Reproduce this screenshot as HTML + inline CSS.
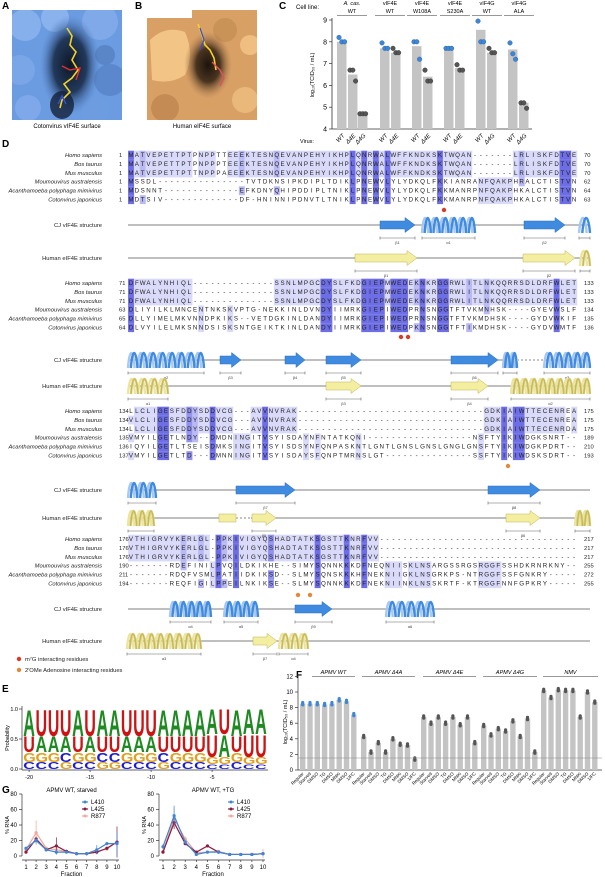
<!DOCTYPE html>
<html><head><meta charset="utf-8"><style>
html,body{margin:0;padding:0;background:#fff;}
svg{display:block;font-family:"Liberation Sans",sans-serif;}
</style></head><body>
<svg id="s" width="605" height="877" viewBox="0 0 605 877" xmlns="http://www.w3.org/2000/svg">
<defs>
<radialGradient id="gA" cx="0.5" cy="0.5" r="0.5"><stop offset="0" stop-color="#0e1828"/><stop offset="0.55" stop-color="#22385a"/><stop offset="1" stop-color="#4f7fc4" stop-opacity="0"/></radialGradient>
<radialGradient id="gB" cx="0.5" cy="0.5" r="0.5"><stop offset="0" stop-color="#1c140c"/><stop offset="0.5" stop-color="#4a3420"/><stop offset="1" stop-color="#b08050" stop-opacity="0"/></radialGradient>
<clipPath id="cA"><rect x="12" y="10" width="110" height="110"/></clipPath>
<clipPath id="cB"><rect x="147" y="10" width="110" height="110"/></clipPath>
</defs>
<g font-weight="bold" font-size="10">
<text x="2" y="9">A</text><text x="135" y="9">B</text><text x="279" y="9">C</text>
<text x="2" y="147">D</text><text x="2" y="692">E</text><text x="296" y="678">F</text><text x="2" y="793">G</text>
</g>
<!-- A -->
<g clip-path="url(#cA)">
<rect x="12" y="10" width="110" height="110" fill="#6b9be0"/>
<circle cx="25" cy="25" r="16" fill="#86b0ec"/><circle cx="55" cy="18" r="14" fill="#8ab3ee"/>
<circle cx="100" cy="22" r="18" fill="#7fa9e9"/><circle cx="20" cy="70" r="15" fill="#7aa5e6"/>
<circle cx="110" cy="80" r="16" fill="#5b88cc"/><circle cx="95" cy="110" r="14" fill="#6e9ce0"/>
<circle cx="28" cy="108" r="13" fill="#7ea8ea"/><circle cx="105" cy="55" r="10" fill="#5a86c8"/>
<ellipse cx="70" cy="65" rx="30" ry="50" fill="url(#gA)"/>
<ellipse cx="62" cy="105" rx="12" ry="14" fill="#14203a" opacity="0.8"/>
<polyline points="67,28 72,36 70,45 76,52 72,60 78,70 72,78 64,84 70,92 62,100 60,108" fill="none" stroke="#f3d22a" stroke-width="1.6"/>
<polyline points="62,66 70,70 80,68 76,80" fill="none" stroke="#e03030" stroke-width="1.4"/>
<polyline points="58,104 62,96 66,104" fill="none" stroke="#3050d0" stroke-width="1.4"/>
</g>
<text x="67" y="128" font-size="6" text-anchor="middle">Cotonvirus vIF4E surface</text>
<!-- B -->
<g clip-path="url(#cB)">
<rect x="147" y="10" width="110" height="110" fill="#d9a066"/>
<rect x="147" y="10" width="45" height="8" fill="#fff"/>
<path d="M150,40 Q165,25 185,32 Q195,55 185,75 Q170,85 152,80 Z" fill="#f2c486"/>
<circle cx="250" cy="45" r="10" fill="#efbe80"/><circle cx="245" cy="100" r="13" fill="#eab87a"/>
<circle cx="165" cy="108" r="14" fill="#c48c54"/><circle cx="225" cy="30" r="12" fill="#c99257"/>
<ellipse cx="208" cy="65" rx="24" ry="34" fill="url(#gB)"/>
<polyline points="198,24 202,35 205,45 210,50 214,58 216,70" fill="none" stroke="#f3d22a" stroke-width="1.6"/>
<polyline points="212,62 220,70 224,78 220,86" fill="none" stroke="#e05060" stroke-width="1.4"/>
<polyline points="200,28 204,40 200,50" fill="none" stroke="#3050d0" stroke-width="1.2"/>
</g>
<text x="202" y="128" font-size="6" text-anchor="middle">Human eIF4E surface</text>
<g id="dyn"></g>
</svg>
<script>
(function(){
var NS="http://www.w3.org/2000/svg",g=document.getElementById("dyn");
function el(t,a,txt){var e=document.createElementNS(NS,t);for(var k in a)e.setAttribute(k,a[k]);if(txt!=null)e.textContent=txt;g.appendChild(e);return e;}
function T(x,y,s,fs,o){o=o||{};var a={x:x,y:y,"font-size":fs};for(var k in o)a[k]=o[k];return el("text",a,s);}
function L(x1,y1,x2,y2,c,w,o){o=o||{};var a={x1:x1,y1:y1,x2:x2,y2:y2,stroke:c,"stroke-width":w||1};for(var k in o)a[k]=o[k];return el("line",a);}

/* ---------- C chart ---------- */
var cy=function(v){return 129-(v-4)*21.8;};
L(332,18,332,129,"#333",0.8);L(332,129,532,129,"#333",0.8);
for(var v=4;v<=9;v++){L(329,cy(v),332,cy(v),"#333",0.7);T(327,cy(v)+2.5,""+v,7,{"text-anchor":"end"});}
T(314,75,"log\u2081\u2080(TCID\u2085\u2080 / mL)",5.5,{"text-anchor":"middle",transform:"rotate(-90 314 75)"});
T(296,9,"Cell line:",6);
var grp=[["A. cas.","WT",352,1],["vIF4E","WT",390,0],["vIF4E","W108A",422,0],["vIF4E","S230A",455,0],["vIF4G","WT",487,0],["vIF4G","ALA",519,0]];
grp.forEach(function(q){T(q[2],5,q[0],5.5,{"text-anchor":"middle","font-style":q[3]?"italic":"normal"});T(q[2],13,q[1],5.5,{"text-anchor":"middle"});L(q[2]-15,15.5,q[2]+15,15.5,"#333",0.6);});
var cb=[[337,8.0,[8.2,8.0,8.0],1],[348,6.5,[6.7,6.7,6.2],0],[358,4.7,[4.7,4.7,4.7],0],[380,7.7,[7.95,7.7,7.7],1],[391,7.5,[7.7,7.5,7.5],0],[412,7.8,[8.0,8.0,7.2],1],[423,6.4,[6.7,6.2,6.2],0],[444,7.7,[7.7,7.7,7.7],1],[455,6.8,[6.95,6.7,6.7],0],[476,8.55,[8.95,8.0,8.0],1],[487,7.5,[7.7,7.5,7.5],0],[508,7.65,[7.95,7.45,7.2],1],[519,5.2,[5.2,5.2,4.95],0]];
cb.forEach(function(b){el("rect",{x:b[0],y:cy(b[1]),width:9.5,height:129-cy(b[1]),fill:"#c4c4c4"});
 b[2].forEach(function(d,i){el("circle",{cx:b[0]+2+i*2.8,cy:cy(d),r:2.3,fill:b[3]?"#3f86d6":"#555",stroke:b[3]?"#1e5aa0":"#333","stroke-width":0.4});});});
T(300,143,"Virus:",5.5);
var vl=[[342,"WT"],[353,"\u03944E"],[363,"\u03944G"],[385,"WT"],[396,"\u03944E"],[417,"WT"],[428,"\u03944E"],[449,"WT"],[460,"\u03944E"],[481,"WT"],[492,"\u03944G"],[513,"WT"],[524,"\u03944G"]];
vl.forEach(function(q){T(q[0]+3,136,q[1],6,{"text-anchor":"end",transform:"rotate(-45 "+(q[0]+3)+" 136)","font-style":"italic"});});

/* ---------- D alignment ---------- */
var names=["Homo sapiens","Bos taurus","Mus musculus","Moumouvirus australensis","Acanthamoeba polyphaga mimivirus","Cotonvirus japonicus"];
var blocks=[
{y:157,s:[1,1,1,1,1,1],e:[70,70,70,62,64,63],q:[
"MATVEPETTPTPNPPTTEEEKTESNQEVANPEHYIKHPLQNRWALWFFKNDKSKTWQAN-------LRLISKFDTVE",
"MATVEPETTPTPNPPPTEEEKTESNQEVANPEHYIKHPLQNRWALWFFKNDKSKTWQAN-------LRLISKFDTVE",
"MATVEPETTPTTNPPPAEEEKTESNQEVANPEHYIKHPLQNRWALWFFKNDKSKTWQAN-------LRLISKFDTVE",
"MSSDL---------------TVTDKNSIPKDIPLTDIKLPNEWVLYLYDKQLFKKIANRANFQAKPHRALCTISTVN",
"MDSNNT-------------EFKDNYQHIPDDIPLTNIKLPNEWVLYLYDKQLFKKMANRPNFQAKPHKALCTISTVN",
"MDTSIV-------------DF-HNINNIPDNVTLTNIKLPNEWVLYLYDKQLFKKMANRPNFQAKPHKALCTISTVN"]},
{y:285,s:[71,71,71,63,65,64],e:[133,133,133,134,135,136],q:[
"DFWALYNHIQL--------------SSNLMPGCDYSLFKDGIEPMWEDEKNKRGGRWLITLNKQQRRSDLDRFWLET",
"DFWALYNHIQL--------------SSNLMPGCDYSLFKDGIEPMWEDEKNKRGGRWLITLNKQQRRSDLDRFWLET",
"DFWALYNHIQL--------------SSNLMPGCDYSLFKDGIEPMWEDEKNKRGGRWLITLNKQQRRSDLDRFWLET",
"DLIYILKLMNCENTNKSKVPTG-NEKKINLDVNDYIIMRKGIEPIWEDPRNSNGGTFTVKMNHSK----GYEVWSLF",
"DLLYIMELMKVNNDPKIKS--VETDGKINLDANDYIIMRKGIEPIWEDPRNSNGGTFTVKMDHSK----GYDVWKIF",
"DLVYILELMKSNNDSISKSNTGEIKTKINLDANDYIIMRKGIEPIWEDPKNSNGGTFTIKMDHSK----GYDVWMTF"]},
{y:413,s:[134,134,134,135,136,137],e:[175,175,175,189,210,193],q:[
"LLCLIGESFDDYSDDVCG---AVVNVRAK--------------------------------GDKIAIWTTECENREA",
"VLCLIGESFDDYSDDVCG---AVVNVRAK--------------------------------GDKIAIWTTECENREA",
"LLCLIGESFDDYSDDVCG---AVVNVRAK--------------------------------GDKIAIWTTECENRDA",
"VMYILGETLNDY--DMDNINGITVSYISDAYNFNTATKQNI------------------NSFTYIKIWDGKSNRT--",
"IQYILGETLTSEISDMKSINGITVSYISDSYNFQNPASKNTLGNTLGNSLGNSLGNGLGNSFTYIKIWDGKPDRT--",
"VMYILGETLTD---DMNNINGITVSYISDAYSFQNPTMRNSLGT---------------SSFTYIKIWDSKSDRT--"]},
{y:541,s:[176,176,176,190,211,194],e:[217,217,217,255,272,255],q:[
"VTHIGRVYKERLGL-PPKIVIGYQSHADTATKSGSTTKNRFVV----------------------------------",
"VTHIGRVYKERLGL-PPKIVIGYQSHADTATKSGSTTKNRFVV----------------------------------",
"VTHIGRVYKERLGL-PPKIVIGYQSHADTATKSGSTTKNRFVV----------------------------------",
"-------RDEFINILPVQILDKIKHE--SIMYSQNNKKKDFNEQNIISKLNSARGSSRGSRGGFSSHDKRNRKNY--",
"-------RDQFVSMLPATIIDKIKSD--SLMYSQNSKKKHFNEKNIIGKLNSGRKPS-NTRGGFSSFGNKRY-----",
"-------REQFIGILPPEILNKIKSE--SLMYSQNNKKKDFNEKNIINKLNSSKRTF-KTRGGFNNFGPKRY-----"]}];
var X0=131,CW=5.83,RH=8.9;
var shade={6:"#6d6de6",5:"#9191ee",4:"#b9b9f4",3:"#d9d9f9"};
blocks.forEach(function(b){
 var n=b.q[0].length;
 for(var c=0;c<n;c++){var cnt={};b.q.forEach(function(s){var ch=s[c];if(ch&&ch!="-")cnt[ch]=(cnt[ch]||0)+1;});
  var best=null,bc=0;for(var k in cnt)if(cnt[k]>bc){bc=cnt[k];best=k;}
  b.q.forEach(function(s,r){var ch=s[c]||"-";var x=X0+c*CW,y=b.y+r*RH;
   if(ch==best&&bc>=3)el("rect",{x:x-CW/2,y:y-6.3,width:CW+0.2,height:RH,fill:shade[bc]});
   T(x,y,ch,6.2,{"text-anchor":"middle",fill:"#222"});});}
 b.q.forEach(function(s,r){var y=b.y+r*RH;
  T(102,y,names[r],5.8,{"text-anchor":"end","font-style":"italic",fill:"#222"});
  T(119,y,""+b.s[r],5.8,{fill:"#222"});T(584,y,""+b.e[r],5.8,{fill:"#222"});});
});
var BLUE="#3f8be0",BLUE2="#a8c8f0",YEL="#f4eea0",YELS="#bdb35a";
function backbone(y){L(128,y,590,y,"#999",1.3);}
function arrow(x1,x2,y,h){var f=h?YEL:BLUE,s=h?YELS:"#2a6cc0";var hl=Math.min(10,(x2-x1)*0.45);
 el("polygon",{points:[x1,y-4,x2-hl,y-4,x2-hl,y-7.5,x2,y,x2-hl,y+7.5,x2-hl,y+4,x1,y+4].join(" "),fill:f,stroke:s,"stroke-width":0.5});}
function helix(x1,x2,y,h){var w=9,n=Math.max(1,Math.round((x2-x1)/w));w=(x2-x1)/n;
 var d1="",d2="";for(var i=0;i<n;i++){var a=x1+i*w;
  d2+="M"+a+","+(y+8)+" C"+(a+w*0.15)+","+(y-12)+" "+(a+w*0.55)+","+(y-12)+" "+(a+w*0.7)+","+(y+8)+" ";
  d1+="M"+(a+w*0.3)+","+(y+8)+" C"+(a+w*0.45)+","+(y-12)+" "+(a+w*0.85)+","+(y-12)+" "+(a+w)+","+(y+8)+" ";}
 el("path",{d:d2,fill:"none",stroke:h?"#ece4a0":BLUE2,"stroke-width":2.4});
 el("path",{d:d1,fill:"none",stroke:h?"#d8cc70":BLUE,"stroke-width":2.4});
 if(h)el("path",{d:d1,fill:"none",stroke:"#a69a40","stroke-width":0.4});}
function rng(x1,x2,y,l){L(x1,y+13,x2,y+13,"#666",0.6);L(x1,y+11.5,x1,y+14.5,"#666",0.6);L(x2,y+11.5,x2,y+14.5,"#666",0.6);T((x1+x2)/2,y+19,l,4,{"text-anchor":"middle",fill:"#444"});}
var struct=[
 [225,0,[["a",380,415,"\u03b21"],["h",422,475,"\u03b11"],["a",524,565,"\u03b22"],["h",579,590,""]]],
 [258,1,[["a",355,417,"\u03b21"],["a",523,575,"\u03b22"],["h",580,590,""]]],
 [360,0,[["h",128,204,"\u03b12"],["a",220,241,"\u03b23"],["a",285,305,"\u03b24"],["a",326,361,"\u03b25"],["a",451,498,"\u03b26"],["h",503,517,""],["d",517,544],["h",544,590,"\u03b13"]]],
 [386,1,[["h",128,168,"\u03b11"],["a",326,361,"\u03b23"],["a",451,488,"\u03b24"],["h",511,590,"\u03b12"]]],
 [490,0,[["h",128,156,""],["a",236,295,"\u03b27"],["a",488,540,"\u03b28"]]],
 [518,1,[["h",128,154,""],["b",219,236],["d",236,251],["a",252,276,"\u03b25"],["a",506,540,"\u03b26"],["h",575,590,""]]],
 [609,0,[["h",170,211,"\u03b14"],["h",224,258,"\u03b15"],["a",295,332,"\u03b29"],["h",386,434,"\u03b16"]]],
 [641,1,[["h",127,201,"\u03b13"],["a",253,277,"\u03b27"],["h",279,308,"\u03b14"]]]];
var lab=["CJ vIF4E structure","Human eIF4E structure"];
struct.forEach(function(s){var y=s[0],h=s[1];T(102,y+2,lab[h],5.8,{"text-anchor":"end",fill:"#222"});backbone(y);
 s[2].forEach(function(e){
  if(e[0]=="d"){L(e[1],y,e[2],y,"#fff",2);L(e[1],y,e[2],y,"#888",1,{"stroke-dasharray":"2,2"});return;}
  if(e[0]=="b"){el("rect",{x:e[1],y:y-4,width:e[2]-e[1],height:8,fill:YEL,stroke:YELS,"stroke-width":0.5});return;}
  if(e[0]=="a")arrow(e[1],e[2],y,h);else helix(e[1],e[2],y,h);
  if(e[3]!=null)rng(e[1],e[2],y,e[3]);});});
[[444,210,"#d93a2a"],[401,337,"#d93a2a"],[408,337,"#d93a2a"],[508,466,"#e08a3a"],[298,595,"#e08a3a"],[310,595,"#e08a3a"]].forEach(function(d){el("circle",{cx:d[0],cy:d[1],r:2.2,fill:d[2]});});
el("circle",{cx:19,cy:659,r:2.2,fill:"#d93a2a"});T(25,661,"m\u2077G interacting residues",5.8,{fill:"#222"});
el("circle",{cx:19,cy:670,r:2.2,fill:"#e08a3a"});T(25,672,"2\u2032OMe Adenosine interacting residues",5.8,{fill:"#222"});

/* ---------- E logo ---------- */
var ey=function(v){return 769-v*60;};
L(22,706,22,770,"#333",0.7);L(22,770,268,770,"#333",0.7);
[[0,"0.0"],[0.5,"0.5"],[1,"1.0"]].forEach(function(q){L(19,ey(q[0]),22,ey(q[0]),"#333",0.7);T(18,ey(q[0])+2,q[1],5.5,{"text-anchor":"end"});});
T(9,738,"Probability",5.5,{"text-anchor":"middle",transform:"rotate(-90 9 738)"});
var top="AUUUAUAAUUUAAAAAUAAA",thr="GGGCGGCCGGGCGGGGGGGG";
var col={A:"#1f8a22",U:"#cc1414",G:"#e0a020",C:"#1c1cd0"};
var lw=12.2;
for(var i=0;i<20;i++){var x=23+i*lw;
 var t=top[i],sec=t=="A"?"U":"A",th=thr[i],bo=th=="G"?"C":"G";
 var hs=[0.45,0.27,0.16,0.12];if(i>=15&&i!=17){hs=[0.42,0.38,0.12,0.08];}
 var letters=[[t,hs[0]],[sec,hs[1]],[th,hs[2]],[bo,hs[3]]];
 var yb=1.0;
 letters.forEach(function(q){var h=q[1]*60,ytop=ey(yb),ybot=ytop+h;yb-=q[1];
  var sx=(lw-0.6)/72,sy=h/72;
  el("text",{x:0,y:0,"font-size":100,"font-weight":"bold",fill:col[q[0]],transform:"translate("+(x+0.3)+","+ybot+") scale("+sx+","+sy+")"},q[0]);});
 if((i%5)==0||i==19){}
}
[[-20,0],[-15,5],[-10,10],[-5,15]].forEach(function(q){var x=23+q[1]*lw+lw/2;L(x,770,x,772,"#333",0.7);T(x,779,""+q[0],5.5,{"text-anchor":"middle"});});

/* ---------- F chart ---------- */
var fy=function(v){return 770-v*7.8;};
L(298,674,298,770,"#333",0.7);L(298,770,602,770,"#333",0.7);
for(var v=0;v<=12;v+=2){L(295,fy(v),298,fy(v),"#333",0.7);T(293,fy(v)+2,""+v,6,{"text-anchor":"end"});}
T(287,722,"log\u2081\u2080(TCID\u2085\u2080 / mL)",5.5,{"text-anchor":"middle",transform:"rotate(-90 287 722)"});
var fg=[["APMV WT",300,312,355,[8.5,8.5,8.5,8.4,8.5,9.0,8.8,7.1],1],["APMV \u03944A",361,362,415,[4.3,2.3,3.5,2.3,4.0,3.3,3.2,1.4],0],
["APMV \u03944E",421,423,476,[6.8,6.0,6.8,6.0,6.8,5.8,6.8,3.5],0],["APMV \u03944G",481,483,537,[5.7,4.5,5.3,5.0,6.3,4.3,6.6,2.3],0],["NMV",541,543,598,[10.2,9.3,10.3,10.2,10.2,6.8,10.0,8.7],0]];
var fl=["Regular","Starved","DMSO","TG","DMSO","MNKi","DMSO","1/FC"];
fg.forEach(function(g2){T((g2[2]+g2[3])/2,674,g2[0],5.5,{"text-anchor":"middle","font-style":"italic"});L(g2[2],676.5,g2[3],676.5,"#333",0.6);
 g2[4].forEach(function(v,i){var x=g2[1]+i*7.3;el("rect",{x:x,y:fy(v),width:5.4,height:770-fy(v),fill:"#c4c4c4"});
  for(var k=0;k<3;k++)el("circle",{cx:x+2.7,cy:fy(v+(k-1)*0.15),r:1.6,fill:g2[5]?"#3f86d6":"#555"});
  T(x+4,774,fl[i],4.5,{"text-anchor":"end",transform:"rotate(-45 "+(x+4)+" 774)"});});});
L(298,758,602,758,"#888",0.5);

/* ---------- G charts ---------- */
function gpanel(x0,x1,title,data,lx){var gy=function(v){return 856-v*0.775;};var gx=function(i){return x0+(i-1)*(x1-x0)/9;};
 L(x0-4,794,x0-4,856,"#333",0.7);L(x0-4,860,x1+2,860,"#333",0.7);
 for(var v=0;v<=80;v+=20){L(x0-7,gy(v),x0-4,gy(v),"#333",0.7);T(x0-9,gy(v)+2,""+v,6,{"text-anchor":"end"});}
 for(var i=1;i<=10;i++){L(gx(i),860,gx(i),862,"#333",0.7);T(gx(i),869,""+i,6,{"text-anchor":"middle"});}
 T((x0+x1)/2,876,"Fraction",6,{"text-anchor":"middle"});
 T(x0-17,825,"% RNA",5.5,{"text-anchor":"middle",transform:"rotate(-90 "+(x0-17)+" 825)"});
 T((x0+x1)/2,792,title,6,{"text-anchor":"middle"});
 var cols=["#f0a89a","#8a1c40","#3f86d6"];
 data.forEach(function(d,k){var p=d.v.map(function(v,i){return gx(i+1)+","+gy(v);}).join(" ");
  d.e.forEach(function(e,i){if(e>0)L(gx(i+1),gy(d.v[i]-e),gx(i+1),gy(d.v[i]+e),cols[k],0.7);});
  el("polyline",{points:p,fill:"none",stroke:cols[k],"stroke-width":1.2});
  d.v.forEach(function(v,i){el("circle",{cx:gx(i+1),cy:gy(v),r:1.6,fill:cols[k]});});});
 var ln=["L410","L425","R877"],lc=["#3f86d6","#8a1c40","#f0a89a"];
 ln.forEach(function(n,k){var y=804+k*7;L(lx,y-2,lx+6,y-2,lc[k],1.2);el("circle",{cx:lx+3,cy:y-2,r:1.5,fill:lc[k]});T(lx+9,y,n,6);});}
gpanel(26,117,"APMV WT, starved",[
 {v:[8,30,10,8,6,3,3,6,9,18],e:[3,16,2,2,1,0,0,2,2,4]},
 {v:[5,22,8,13,6,3,3,5,10,18],e:[2,3,2,11,2,0,0,2,1,20]},
 {v:[10,20,8,5,5,3,3,8,16,16],e:[2,4,2,3,2,0,0,6,1,15]}],82);
gpanel(163,263,"APMV WT, +TG",[
 {v:[6,48,22,4,5,6,2,2,2,3],e:[2,14,3,1,1,1,0,0,1,6]},
 {v:[5,43,16,5,13,5,2,2,2,3],e:[2,8,2,1,2,1,0,0,1,2]},
 {v:[12,52,18,2,5,5,2,2,2,3],e:[3,13,3,1,1,1,0,0,1,2]}],228);
})();
</script>
</body></html>
